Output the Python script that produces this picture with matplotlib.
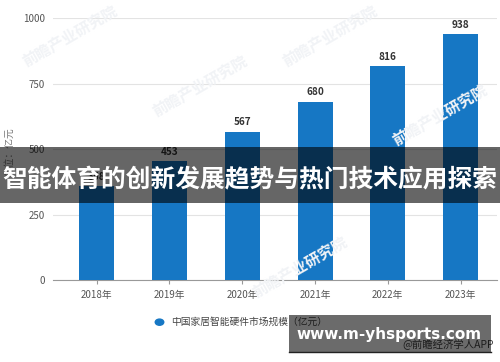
# bar chart: china smart home hardware market size, with overlay banner
import matplotlib
matplotlib.use("Agg")
import matplotlib.pyplot as plt
from matplotlib.patches import Rectangle

plt.rcParams['font.family'] = ['Noto Sans CJK SC', 'DejaVu Sans']

# ── data ─────────────────────────────────────────────────────────────────────
years  = ["2018年", "2019年", "2020年", "2021年", "2022年", "2023年"]
values = [358, 453, 567, 680, 816, 938]
yticks = [0, 250, 500, 750, 1000]

title_text  = "智能体育的创新发展趋势与热门技术应用探索"
site_text   = "www.m-yhsports.com"
legend_text = "中国家居智能硬件市场规模（亿元）"
ylabel_text = "单位：亿元"
source_text = "@前瞻经济学人APP"

C_BAR  = '#1677c4'
C_GRID = '#e3e3e3'
C_TICK = '#555555'

fig = plt.figure(figsize=(5, 3.62), dpi=100, facecolor='white')
ax = fig.add_axes([0.106, 0.2265, 0.888, 0.7235])

# faint watermarks
wm = [(0.14, 0.90), (0.40, 0.76), (0.66, 0.90), (0.88, 0.68), (0.60, 0.26)]
for wx, wy in wm:
    fig.text(wx, wy, "前瞻产业研究院", fontsize=11, color='#f1f3f6', rotation=30,
             ha='center', va='center', fontweight='bold', zorder=0)

x = list(range(len(years)))
ax.bar(x, values, width=0.48, color=C_BAR, zorder=3)
for xi, v in zip(x, values):
    ax.text(xi, v + 18, str(v), ha='center', va='bottom', fontsize=7.2,
            fontweight='bold', color='#333333', zorder=4)

ax.set_xlim(-0.6, 5.5)
ax.set_ylim(0, 1000)
ax.set_yticks(yticks)
ax.set_yticklabels([str(t) for t in yticks], fontsize=7, color=C_TICK)
ax.set_xticks(x)
ax.set_xticklabels(years, fontsize=7, color=C_TICK)
ax.tick_params(axis='y', length=0, pad=6)
ax.tick_params(axis='x', length=3, color='#999999', pad=4)
ax.grid(axis='y', color=C_GRID, linewidth=0.8, zorder=0)
ax.set_axisbelow(True)
for s in ['top', 'right', 'left']:
    ax.spines[s].set_visible(False)
ax.spines['bottom'].set_color('#999999')
ax.patch.set_alpha(0)

fig.text(0.018, 0.58, ylabel_text, rotation=90, fontsize=7, color='#777777',
         ha='center', va='center')

# legend
fig.patches.append(plt.Circle((0.319, 0.110), 0.0085, transform=fig.transFigure,
                              color=C_BAR, zorder=5))
fig.text(0.343, 0.110, legend_text, fontsize=7, color='#444444', va='center', zorder=5)
fig.text(0.988, 0.052, source_text, fontsize=7.5, color='#444444', ha='right',
         va='center', zorder=5)

# overlay banner
fig.patches.append(Rectangle((0, 0.439), 1, 0.155, transform=fig.transFigure,
                             facecolor='black', alpha=0.6, zorder=10))
fig.text(0.5, 0.503, title_text, fontsize=17.8, fontweight='bold', color='white',
         ha='center', va='center', zorder=11)

# site box
fig.patches.append(Rectangle((0.578, 0.028), 0.404, 0.102, transform=fig.transFigure,
                             facecolor='black', alpha=0.58, zorder=10))
fig.lines.append(plt.Line2D([0.578, 0.982], [0.028, 0.028], transform=fig.transFigure,
                            color='#222222', linewidth=1, zorder=11))
fig.text(0.778, 0.075, site_text, fontsize=11, fontweight='bold', color='white',
         ha='center', va='center', family=['DejaVu Sans'], zorder=11)

fig.savefig("out.png", dpi=100)
